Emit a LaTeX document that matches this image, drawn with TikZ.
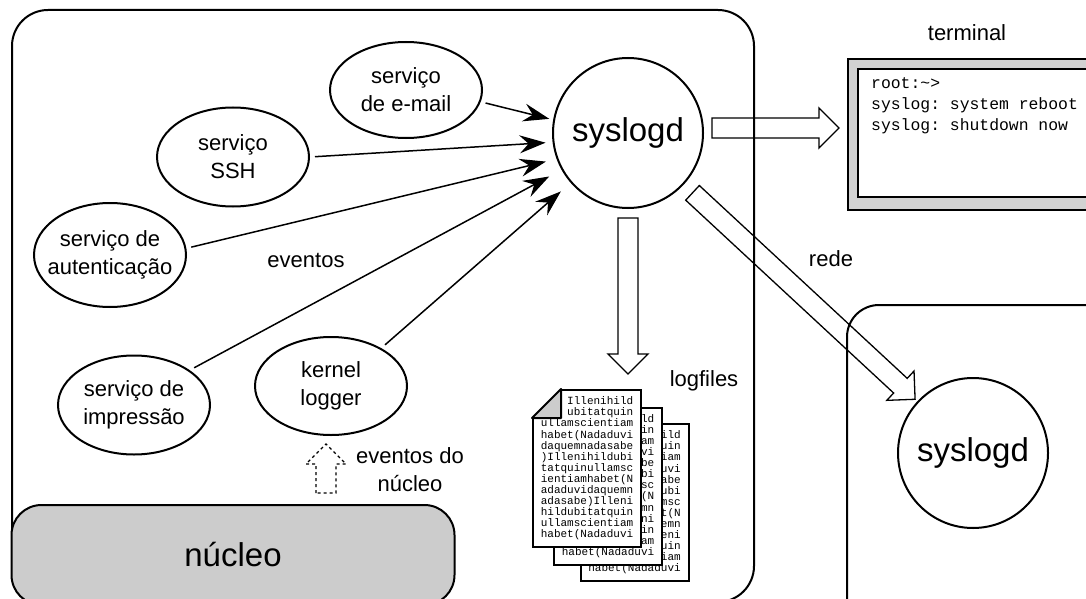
\documentclass[tikz,border=0pt]{standalone}
\usepackage{fontspec}
\setmainfont{Liberation Sans}
\setmonofont{Liberation Mono}
\usetikzlibrary{calc,positioning,shapes.geometric,arrows.meta}
\tikzset{
>={Stealth[length=26pt,width=18pt,inset=9pt]},
  servico/.style={
    ellipse,
    draw, line width=2pt,
    minimum width=152pt,
    minimum height=98pt,
    inner sep=-30pt,
    align=center,
    font=\fontsize{22}{28}\selectfont},
  daemon/.style={
    circle,
    draw, line width=2pt,
    minimum size=150pt,
    inner sep=0pt,
    font=\fontsize{33}{40}\selectfont},
  evento/.style={->, line width=1.5pt, shorten <=5pt, shorten >=5pt},
  caixa/.style={draw, line width=2pt, rounded corners=36pt},
  nucleo/.style={
    rectangle, rounded corners=30pt,
    draw, line width=2pt, fill=gray!40,
    minimum width=443pt, minimum height=100pt,
    font=\fontsize{33}{40}\selectfont},
  rotulo/.style={align=center, font=\fontsize{22}{28}\selectfont},
  pagina/.style={
    draw, line width=2pt, fill=white,
    minimum width=108pt, minimum height=157pt,
    inner sep=0pt, align=right,
    font=\ttfamily\fontsize{11}{11.1}\selectfont},
  dobra/.style={draw, line width=2pt, fill=gray!40, line join=round},
  bloco/.style={draw, line width=1.3pt, line join=miter},
}
% seta larga de #2 para #3
\newcommand\setabloco[3][]{%
  \coordinate (#2-#3) at ($(#3)!20pt!(#2)$);
  \draw[bloco,#1] ($(#2)!10pt!90:(#3)$) -- ($(#2-#3)!10pt!90:(#3)$)
    -- ($(#2-#3)!20pt!90:(#3)$) -- (#3) -- ($(#2-#3)!20pt!-90:(#3)$)
    -- ($(#2-#3)!10pt!-90:(#3)$) -- ($(#2)!10pt!-90:(#3)$) -- cycle;}

\begin{document}
\begin{tikzpicture}[x=1pt, y=-1pt]
    \useasboundingbox (0,0) rectangle (1086,599);
    % maquina local e remota
    \draw[caixa] (12,10) rectangle (754,602);
    \draw[caixa, rounded corners=32pt] (847,305) rectangle (1130,660);
    \node[nucleo] (nucleo) at (233,555) {núcleo};

    \node[daemon] (sys)  at (628,133) {syslogd};
    \node[daemon] (sys2) at (973,453) {syslogd};

    \node[servico, minimum height=96pt]  (mail) at (406,90)  {serviço\\de e-mail};
    \node[servico, minimum height=99pt]  (ssh)  at (233,157) {serviço\\SSH};
    \node[servico, minimum height=104pt] (auth) at (110,255) {serviço de\\autenticação};
    \node[servico, minimum height=99pt]  (imp)  at (134,405) {serviço de\\impressão};
    \node[servico] (kern) at (331,386) {kernel\\logger};

    \draw[evento, shorten >=4pt]  (mail.-9)  -- (sys.170);
    \draw[evento, shorten >=7pt]  (ssh.east) -- (sys.187);
    \draw[evento, shorten >=11pt] (auth.5)   -- (sys.200);
    \draw[evento, shorten >=14pt] (imp.32)   -- (sys.209);
    \draw[evento, shorten >=13pt] (kern.37)  -- (sys.221);

    \node[rotulo] (eventos) at (306,260) {eventos};
    \node[rotulo] (evnucleo) at (410,470) {eventos do\\núcleo};

    % terminal
    \node[draw, line width=2pt, fill=gray!35, minimum width=262pt, minimum height=151pt] (term) at (979,134.5) {};
    \node[draw, line width=2pt, fill=white, minimum width=242pt, minimum height=128pt] (tela) at (979,133) {};
    \node[anchor=north west, inner sep=0pt, align=left, font=\ttfamily\fontsize{16.4}{21}\selectfont]
        (saida) at (871,77) {root:\textasciitilde>\\syslog: system reboot\\syslog: shutdown now};
    \node[rotulo] (termlbl) at (967,33) {terminal};

    % logfiles (so o que aparece de cada folha)
    \node[pagina] (log3) at (634.5,502.5) {ild\\uin\\iam\\uvi\\abe\\ubi\\msc\\t(N\\emn\\eni\\uin\\iam\\habet(Nadaduvi};
    \node[pagina] (log2) at (608,486) {ld\\in\\am\\vi\\be\\bi\\sc\\(N\\mn\\ni\\in\\am\\habet(Nadaduvi};
    \node[pagina] (log1) at (587,468.5) {Illenihild\\ubitatquin\\ullamscientiam\\habet(Nadaduvi\\%
        daquemnadasabe\\)Illenihildubi\\tatquinullamsc\\ientiamhabet(N\\adaduvidaquemn\\%
        adasabe)Illeni\\hildubitatquin\\ullamscientiam\\habet(Nadaduvi};
    \fill[white] ($(log1.north west)+(-2,-2)$) -- ++(33,0) -- ++(-33,33) -- cycle;
    \draw[dobra] ($(log1.north west)+(29,0)$) -- ++(0,29) -- ++(-29,0) -- cycle;
    \node[rotulo] (loglbl) at (704,381) {logfiles};
    \node[rotulo] (rede) at (831,259) {rede};

    % setas largas
    \coordinate (sysR)  at ($(sys.east)+(8,-5)$);
    \coordinate (termE) at ($(term.west)+(-8,-6.5)$);
    \coordinate (sysB)  at ($(sys.south)+(0,9)$);
    \coordinate (logE)  at ($(sys.south |- log1.north)+(0,-15)$);
    \coordinate (sysD)  at ($(sys)!88pt!(sys2)$);
    \coordinate (redeE) at ($(sys2)!79pt!(sys)$);
    \coordinate (kernE) at ($(kern.south)+(-5,8)$);
    \coordinate (nucS)  at ($(kernE |- nucleo.north)+(0,-11)$);
    \setabloco{sysR}{termE}
    \setabloco{sysB}{logE}
    \setabloco{sysD}{redeE}
    \setabloco[dash pattern=on 3pt off 3pt, line width=1.2pt]{nucS}{kernE}
\end{tikzpicture}
\end{document}
